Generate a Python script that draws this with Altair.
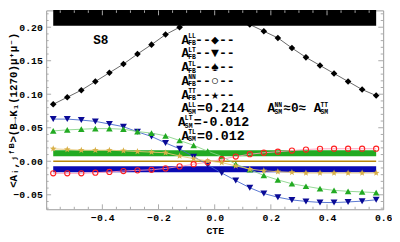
import math
import altair as alt
import pandas as pd

# ---------------- data ----------------
cte = [-0.575, -0.525, -0.475, -0.425, -0.375, -0.325, -0.275, -0.225,
       -0.175, -0.125, -0.075, -0.025, 0.025, 0.075, 0.125, 0.175,
       0.225, 0.275, 0.325, 0.375, 0.425, 0.475, 0.525, 0.575]

a_ll = [0.085, 0.0955, 0.106, 0.119, 0.132, 0.145, 0.160, 0.174,
        0.189, 0.200, 0.210, 0.216, 0.217, 0.212, 0.204, 0.194,
        0.184, 0.169, 0.155, 0.143, 0.131, 0.119, 0.107, 0.098]
a_lt = [0.0629, 0.0629, 0.0614, 0.0595, 0.0556, 0.0516, 0.0439, 0.0370,
        0.0273, 0.0186, 0.0069, -0.0051, -0.0175, -0.0288, -0.0395, -0.0482,
        -0.0537, -0.0577, -0.0599, -0.0614, -0.0617, -0.0607, -0.0595, -0.0575]
a_tl = [0.0453, 0.0468, 0.0478, 0.0487, 0.0487, 0.0478, 0.0443, 0.0420,
        0.0380, 0.0310, 0.0238, 0.0150, 0.0073, -0.0044, -0.0124, -0.0212,
        -0.0278, -0.0336, -0.0373, -0.0409, -0.0434, -0.0448, -0.0458, -0.0468]
a_nn = [-0.0180, -0.0180, -0.0180, -0.0171, -0.0160, -0.0146, -0.0136, -0.0127,
        -0.0107, -0.0077, -0.0044, -0.0015, 0.0030, 0.0070, 0.0105, 0.0127,
        0.0142, 0.0160, 0.0175, 0.0185, 0.0187, 0.0187, 0.0187, 0.0187]
a_tt = [0.0186, 0.0175, 0.0165, 0.0165, 0.0165, 0.0156, 0.0146, 0.0136,
        0.0127, 0.0078, 0.0039, 0.0004, -0.0020, -0.0069, -0.0117, -0.0142,
        -0.0156, -0.0166, -0.0175, -0.0175, -0.0175, -0.0175, -0.0175, -0.0175]

sm_names = ["LL", "TL", "LT", "NN=TT"]
sm_values = [0.214, 0.012, -0.012, 0.0]
sm_start = -0.575
sm_end = 0.575

x_ticks = [-0.4, -0.2, 0.0, 0.2, 0.4, 0.6]
y_ticks = [-0.05, 0.0, 0.05, 0.10, 0.15, 0.20]
x_major_marks = [-0.4, -0.2, 0.0, 0.2, 0.4]
x_minor_marks = [-0.55, -0.5, -0.45, -0.35, -0.3, -0.25, -0.15, -0.1, -0.05,
                 0.05, 0.1, 0.15, 0.25, 0.3, 0.35, 0.45, 0.5, 0.55]
y_major_marks = [-0.05, 0.0, 0.05, 0.10, 0.15, 0.20]
y_minor_marks = [-0.07, -0.06, -0.04, -0.03, -0.02, -0.01, 0.01, 0.02, 0.03,
                 0.04, 0.06, 0.07, 0.08, 0.09, 0.11, 0.12, 0.13, 0.14, 0.16,
                 0.17, 0.18, 0.19, 0.21, 0.22]

# ---------------- layout ----------------
W, H = 344, 203
XMIN, XMAX = -0.6, 0.6
YMIN, YMAX = -0.0716, 0.2251
FONT = "Liberation Mono, DejaVu Sans Mono, monospace"
TICK_COL = "#AAAAAA"

def dx(px):  # page pixel -> data x
    return XMIN + (px - 47) * (XMAX - XMIN) / W

def dy(py):  # page pixel -> data y
    return YMAX - (py - 8) * (YMAX - YMIN) / H

xs = alt.Scale(domain=[XMIN, XMAX], nice=False, zero=False)
ys = alt.Scale(domain=[YMIN, YMAX], nice=False, zero=False)

# star path
pts = []
for k in range(10):
    r = 1.0 if k % 2 == 0 else 0.42
    ang = math.radians(-90 + 36 * k)
    pts.append(f"{r*math.cos(ang):.3f},{r*math.sin(ang):.3f}")
STAR = "M" + " L".join(pts) + " Z"

x_axis = alt.Axis(values=x_ticks, format=".1f", title="CTE",
                  grid=False, ticks=False, domain=False,
                  labelFont=FONT, labelFontWeight="bold", labelFontSize=10,
                  labelPadding=4, labelOverlap=False, labelFlush=False,
                  labelBound=False, labelColor="black",
                  titleFont=FONT, titleFontWeight="bold", titleFontSize=10,
                  titlePadding=3, titleColor="black")
y_axis = alt.Axis(values=y_ticks, format=".2f",
                  title="<Aᵢ,ⱼᶠᴮ>(B→K₁(1270)μ⁺μ⁻)",
                  grid=False, ticks=False, domain=False,
                  labelFont=FONT, labelFontWeight="bold", labelFontSize=10,
                  labelPadding=4, labelOverlap=False, labelColor="black",
                  titleFont=FONT, titleFontWeight="bold", titleFontSize=11,
                  titleColor="black", titleX=-33, titleY=101.5,
                  titleAngle=270, titleAlign="center", titleBaseline="middle")

# ---------------- series ----------------
series = [
    ("LL", a_ll, "#000000", "#555555", "diamond", True, 45),
    ("LT", a_lt, "#0A0A96", "#4466CC", "triangle-down", True, 50),
    ("TL", a_tl, "#22AA22", "#88D488", "triangle-up", True, 45),
    ("NN", a_nn, "#FF2020", "#FF9AB8", "circle", False, 28),
    ("TT", a_tt, "#D8B048", "#E8C878", STAR, True, 50),
]

def series_layers(name, vals, mcol, lcol, shape, filled, sz, first=False):
    df = pd.DataFrame({"x": cte, "y": vals})
    xenc = alt.X("x:Q", scale=xs, axis=x_axis) if first else alt.X("x:Q", scale=xs)
    yenc = alt.Y("y:Q", scale=ys, axis=y_axis) if first else alt.Y("y:Q", scale=ys)
    line = alt.Chart(df).mark_line(color=lcol, strokeWidth=0.9).encode(x=xenc, y=yenc)
    if filled:
        pt = alt.Chart(df).mark_point(shape=shape, filled=True, color=mcol,
                                      size=sz, opacity=1)
    else:
        pt = alt.Chart(df).mark_point(shape=shape, filled=False, color=mcol,
                                      size=sz, strokeWidth=1.1, opacity=1)
    pt = pt.encode(x=alt.X("x:Q", scale=xs), y=alt.Y("y:Q", scale=ys))
    return [line, pt]

# ---------------- SM bands ----------------
band_df = pd.DataFrame({
    "name": sm_names,
    "v": sm_values,
    "x1": [sm_start] * 4,
    "x2": [sm_end] * 4,
})
band_df["col"] = ["#000000", "#22AA22", "#0A0AB4", "#B8860B"]
band_df["w"] = [16, 6, 6, 1.5]

bands = alt.Chart(band_df).mark_rule(strokeCap="butt").encode(
    x=alt.X("x1:Q", scale=xs),
    x2="x2:Q",
    y=alt.Y("v:Q", scale=ys),
    color=alt.Color("col:N", scale=None),
    size=alt.Size("w:Q", scale=None),
)

# ---------------- inward frame ticks ----------------
def xtick_layer(vals, length):
    d = pd.DataFrame({"t": vals})
    base = alt.Chart(d).mark_rule(color=TICK_COL, strokeWidth=1)
    bot = base.encode(x=alt.X("t:Q", scale=xs), y=alt.value(H), y2=alt.value(H - length))
    top = base.encode(x=alt.X("t:Q", scale=xs), y=alt.value(0), y2=alt.value(length))
    return [bot, top]

def ytick_layer(vals, length):
    d = pd.DataFrame({"t": vals})
    base = alt.Chart(d).mark_rule(color=TICK_COL, strokeWidth=1)
    lft = base.encode(y=alt.Y("t:Q", scale=ys), x=alt.value(0), x2=alt.value(length))
    rgt = base.encode(y=alt.Y("t:Q", scale=ys), x=alt.value(W), x2=alt.value(W - length))
    return [lft, rgt]

tick_layers = (xtick_layer(x_major_marks, 5) + xtick_layer(x_minor_marks, 2.5)
               + ytick_layer(y_major_marks, 5) + ytick_layer(y_minor_marks, 2.5))

# LL series is drawn first so the thick SM band hides its peak
layers = series_layers(*series[0], first=True) + [bands] + tick_layers
for s in series[1:]:
    layers += series_layers(*s)

# ---------------- annotations ----------------
ann = []
def add(px, py, t, fs):
    ann.append({"tx": dx(px), "ty": dy(py), "label": t, "fs": fs})

SUB = 6.5
OFF = 3.6
add(95, 38, "S8", 13)
rows = [("LL", "FB", "--◆--"), ("LT", "FB", "--▼--"), ("TL", "FB", "--♠--"),
        ("NN", "FB", "--○--"), ("TT", "FB", "--★--")]
for k, (sup, sub, rest) in enumerate(rows):
    cy = 38 + 14 * k
    add(185, cy, "A", 13)
    add(192, cy - OFF, sup, SUB)
    add(192, cy + OFF, sub, SUB)
    add(199, cy, rest, 13.5)
sm_rows = [(185, 108, "LL", "=0.214"), (181.5, 122, "LT", "=-0.012"),
           (185, 136, "TL", "=0.012")]
for ax, cy, sup, rest in sm_rows:
    add(ax, cy, "A", 13)
    add(ax + 7, cy - OFF, sup, SUB)
    add(ax + 7, cy + OFF, "SM", SUB)
    add(ax + 16, cy, rest, 13.5)
add(273, 108, "A", 13)
add(280, 108 - OFF, "NN", SUB)
add(280, 108 + OFF, "SM", SUB)
add(289, 108, "≈0≈", 13)
add(320, 108, "A", 13)
add(327, 108 - OFF, "TT", SUB)
add(327, 108 + OFF, "SM", SUB)

ann_df = pd.DataFrame(ann)
texts = alt.Chart(ann_df).mark_text(align="left", baseline="middle", font=FONT,
                                    fontWeight="bold", color="black").encode(
    x=alt.X("tx:Q", scale=xs), y=alt.Y("ty:Q", scale=ys),
    text="label:N", size=alt.Size("fs:Q", scale=None))
layers.append(texts)

chart = alt.layer(*layers).properties(
    width=W, height=H,
    autosize=alt.AutoSizeParams(type="none"),
    padding={"left": 39, "top": 0, "right": 9, "bottom": 31},
    background="white",
).configure_view(stroke="#999999", strokeWidth=1)

chart.save("out.html", embed_options={"renderer": "svg", "actions": False})
